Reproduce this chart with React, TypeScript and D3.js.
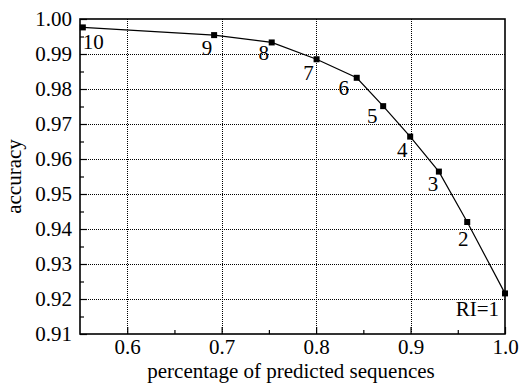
import React, { useRef, useEffect } from "react";
import * as d3 from "d3";

// percentage of predicted sequences vs accuracy, one point per RI threshold
const riLabels = ["RI=1", "2", "3", "4", "5", "6", "7", "8", "9", "10"];
const coverage = [1.0, 0.96, 0.93, 0.8996, 0.871, 0.843, 0.8005, 0.753, 0.692, 0.553];
const accuracy = [0.9216, 0.942, 0.9564, 0.9664, 0.9751, 0.9832, 0.9885, 0.9933, 0.9954, 0.9976];

const xTicks = [0.6, 0.7, 0.8, 0.9, 1.0];
const xMinor = [0.65, 0.75, 0.85, 0.95];
const yTicks = [0.91, 0.92, 0.93, 0.94, 0.95, 0.96, 0.97, 0.98, 0.99, 1.0];
const yMinor = [0.915, 0.925, 0.935, 0.945, 0.955, 0.965, 0.975, 0.985, 0.995];

// label placement relative to each marker (px)
const labelDx = [-6, -4, -6, -8, -11, -13, -8, -8, -7, 0];
const labelDy = [23, 24, 19, 20, 17, 17, 21, 18, 20, 22];

const App: React.FC = () => {
  const ref = useRef<SVGSVGElement | null>(null);

  useEffect(() => {
    const width = 520;
    const height = 383;
    const margin = { top: 19, right: 15, bottom: 49, left: 80 };
    const font = "'Liberation Serif', 'Times New Roman', serif";
    const fs = 21;

    const svg = d3.select(ref.current);
    svg.selectAll("*").remove();
    svg.attr("width", width).attr("height", height).attr("viewBox", `0 0 ${width} ${height}`);

    const x = d3.scaleLinear().domain([0.55, 1.0]).range([margin.left, width - margin.right]);
    const y = d3.scaleLinear().domain([0.91, 1.0]).range([height - margin.bottom, margin.top]);

    svg.append("rect").attr("width", width).attr("height", height).attr("fill", "white");

    // dotted grid
    const grid = svg.append("g").attr("stroke", "#000").attr("stroke-width", 1).attr("stroke-dasharray", "1,1");
    grid
      .selectAll("line.gx")
      .data(xTicks.filter((d) => d < 1))
      .join("line")
      .attr("class", "gx")
      .attr("x1", (d) => Math.round(x(d)) + 0.5)
      .attr("x2", (d) => Math.round(x(d)) + 0.5)
      .attr("y1", y(0.91))
      .attr("y2", y(1.0));
    grid
      .selectAll("line.gy")
      .data(yTicks.filter((d) => d > 0.91 && d < 1))
      .join("line")
      .attr("class", "gy")
      .attr("x1", x(0.55))
      .attr("x2", x(1.0))
      .attr("y1", (d) => Math.round(y(d)) + 0.5)
      .attr("y2", (d) => Math.round(y(d)) + 0.5);

    // axes, ticks pointing inward
    const xAxis = svg
      .append("g")
      .attr("transform", `translate(0,${y(0.91)})`)
      .call(d3.axisBottom(x).tickValues(xTicks).tickSize(-7).tickPadding(6).tickFormat(d3.format(".1f")));
    svg
      .append("g")
      .attr("transform", `translate(0,${y(0.91)})`)
      .call(d3.axisBottom(x).tickValues(xMinor).tickSize(-4).tickFormat(() => ""))
      .call((g) => g.select(".domain").remove());
    const yAxis = svg
      .append("g")
      .attr("transform", `translate(${x(0.55)},0)`)
      .call(d3.axisLeft(y).tickValues(yTicks).tickSize(-7).tickPadding(8).tickFormat(d3.format(".2f")));
    svg
      .append("g")
      .attr("transform", `translate(${x(0.55)},0)`)
      .call(d3.axisLeft(y).tickValues(yMinor).tickSize(-4).tickFormat(() => ""))
      .call((g) => g.select(".domain").remove());

    [xAxis, yAxis].forEach((g) => {
      g.select(".domain").remove();
      g.attr("font-family", font).attr("font-size", fs);
      g.selectAll("text").attr("fill", "#000");
    });
    xAxis.selectAll("text").attr("dy", "0.68em");
    svg.selectAll(".tick line").attr("stroke", "#000").attr("stroke-width", 1.2);

    // frame
    svg
      .append("rect")
      .attr("x", x(0.55))
      .attr("y", y(1.0))
      .attr("width", x(1.0) - x(0.55))
      .attr("height", y(0.91) - y(1.0))
      .attr("fill", "none")
      .attr("stroke", "#000")
      .attr("stroke-width", 1.6);

    // curve
    const pts = coverage.map((c, i) => [c, accuracy[i]] as [number, number]);
    const line = d3
      .line<[number, number]>()
      .x((d) => x(d[0]))
      .y((d) => y(d[1]));
    svg.append("path").attr("d", line(pts)).attr("fill", "none").attr("stroke", "#000").attr("stroke-width", 1.2);

    svg
      .selectAll("rect.pt")
      .data(pts)
      .join("rect")
      .attr("class", "pt")
      .attr("x", (d) => x(d[0]) - 3)
      .attr("y", (d) => y(d[1]) - 3)
      .attr("width", 6)
      .attr("height", 6)
      .attr("fill", "#000");

    svg
      .selectAll("text.lbl")
      .data(pts)
      .join("text")
      .attr("class", "lbl")
      .attr("x", (d, i) => x(d[0]) + labelDx[i])
      .attr("y", (d, i) => y(d[1]) + labelDy[i])
      .attr("text-anchor", (d, i) => (i === 0 ? "end" : i === pts.length - 1 ? "start" : "middle"))
      .attr("font-family", font)
      .attr("font-size", fs)
      .text((d, i) => riLabels[i]);

    // axis titles
    svg
      .append("text")
      .attr("x", 291)
      .attr("y", 378)
      .attr("text-anchor", "middle")
      .attr("font-family", font)
      .attr("font-size", fs)
      .text("percentage of predicted sequences");
    svg
      .append("text")
      .attr("transform", `translate(21,${(y(0.91) + y(1.0)) / 2}) rotate(-90)`)
      .attr("text-anchor", "middle")
      .attr("font-family", font)
      .attr("font-size", fs)
      .text("accuracy");
  }, []);

  return <svg ref={ref} style={{ position: "absolute", left: 0, top: 0 }}></svg>;
};

export default App;
